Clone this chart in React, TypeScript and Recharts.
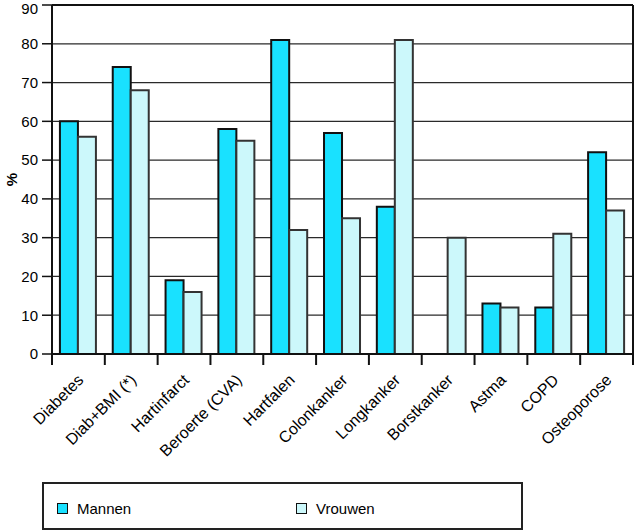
import { Bar, BarChart, CartesianGrid, ReferenceLine, XAxis, YAxis } from "recharts";

const categories = [
  "Diabetes",
  "Diab+BMI (*)",
  "Hartinfarct",
  "Beroerte (CVA)",
  "Hartfalen",
  "Colonkanker",
  "Longkanker",
  "Borstkanker",
  "Astma",
  "COPD",
  "Osteoporose",
];
const mannen = [60, 74, 19, 58, 81, 57, 38, null, 13, 12, 52];
const vrouwen = [56, 68, 16, 55, 32, 35, 81, 30, 12, 31, 37];
const yTicks = [0, 10, 20, 30, 40, 50, 60, 70, 80, 90];

const MANNEN = "#19e1ff";
const VROUWEN = "#ccf8fb";
const FONT = "'Liberation Sans', Arial, sans-serif";

const data = categories.map((name, i) => ({ name, mannen: mannen[i], vrouwen: vrouwen[i] }));

// tick marks sit on the category boundaries, labels at the centre
function CategoryTick(props: any) {
  const { x, y, payload, index } = props;
  const half = payload?.offset ?? 26.4;
  const last = index === categories.length - 1;
  return (
    <g>
      <line x1={x - half} x2={x - half} y1={y - 8} y2={y + 3} stroke="#111" strokeWidth={2} />
      {last && <line x1={x + half} x2={x + half} y1={y - 8} y2={y + 3} stroke="#111" strokeWidth={2} />}
      <text
        x={x + 6}
        y={y + 19}
        textAnchor="end"
        transform={`rotate(-45, ${x + 6}, ${y + 19})`}
        fontSize={16}
        fontFamily={FONT}
        fill="#000"
      >
        {payload.value}
      </text>
    </g>
  );
}

function LegendBox() {
  const item = (color: string, label: string, left: number) => (
    <div style={{ position: "absolute", left, top: 17, display: "flex", alignItems: "center" }}>
      <span style={{ width: 9, height: 9, background: color, border: "1.5px solid #111", display: "inline-block" }} />
      <span style={{ marginLeft: 9, fontSize: 15, fontFamily: FONT, lineHeight: "15px" }}>{label}</span>
    </div>
  );
  return (
    <div
      style={{
        position: "absolute",
        left: 42,
        top: 482,
        width: 477,
        height: 44,
        border: "2px solid #222",
        background: "#fff",
      }}
    >
      {item(MANNEN, "Mannen", 13)}
      {item(VROUWEN, "Vrouwen", 252)}
    </div>
  );
}

export default function App() {
  return (
    <div style={{ position: "absolute", left: 0, top: 0, width: 636, height: 531, background: "#fff" }}>
      <BarChart
        width={636}
        height={480}
        data={data}
        margin={{ top: 5, right: 2, left: 0, bottom: 0 }}
        barGap={0}
        barCategoryGap="15%"
      >
        <CartesianGrid horizontal vertical={false} stroke="#2a2a2a" strokeWidth={1.2} />
        <XAxis
          dataKey="name"
          interval={0}
          height={126}
          tickLine={false}
          axisLine={{ stroke: "#111", strokeWidth: 2 }}
          tick={<CategoryTick />}
        />
        <YAxis
          domain={[0, 90]}
          ticks={yTicks}
          width={52}
          tickSize={10}
          tickMargin={4}
          tickLine={{ stroke: "#111", strokeWidth: 1.5 }}
          axisLine={{ stroke: "#111", strokeWidth: 2 }}
          tick={{ fill: "#000", fontSize: 15, fontFamily: FONT }}
          label={{
            value: "%",
            angle: -90,
            position: "insideLeft",
            offset: 12,
            style: { fill: "#000", fontSize: 15, fontWeight: "bold", fontFamily: FONT, textAnchor: "middle" },
          }}
        />
        <YAxis yAxisId="right" orientation="right" width={1} tick={false} tickLine={false} axisLine={{ stroke: "#111", strokeWidth: 2 }} />
        <ReferenceLine y={90} stroke="#111" strokeWidth={2} />
        <Bar dataKey="mannen" name="Mannen" fill={MANNEN} stroke="#111" strokeWidth={2} isAnimationActive={false} />
        <Bar dataKey="vrouwen" name="Vrouwen" fill={VROUWEN} stroke="#333" strokeWidth={2} isAnimationActive={false} />
      </BarChart>
      <LegendBox />
    </div>
  );
}
